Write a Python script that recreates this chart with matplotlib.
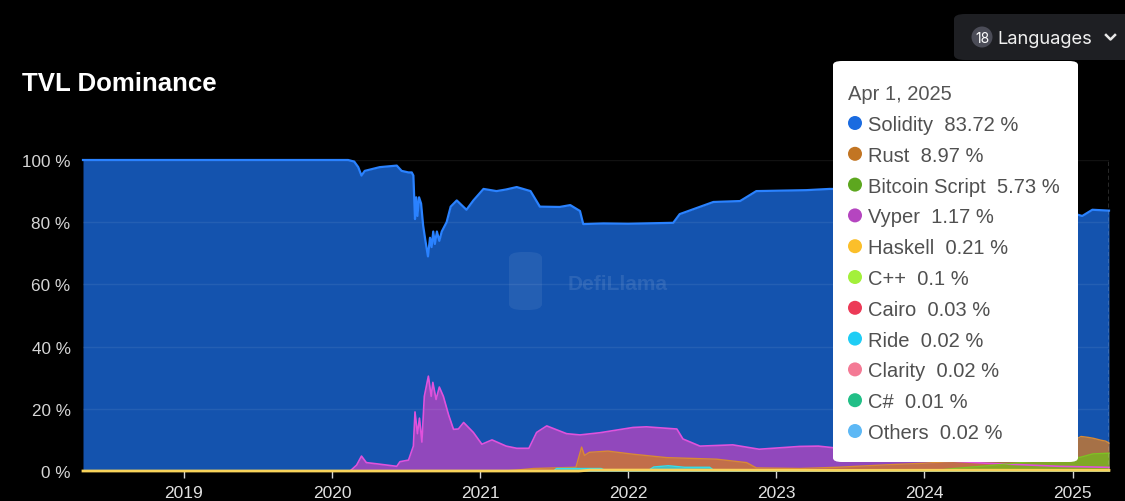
import matplotlib
matplotlib.use("Agg")
import matplotlib.pyplot as plt
import matplotlib.dates as mdates
from matplotlib.patches import FancyBboxPatch, Ellipse
from matplotlib.lines import Line2D
import pandas as pd

plt.rcParams['font.family'] = ['Liberation Sans', 'DejaVu Sans']

# series: (dates, share in %)
sol_dates = ["2018-04-27", "2020-02-10", "2020-02-25", "2020-03-06", "2020-03-14", "2020-03-22",
             "2020-04-28", "2020-06-09", "2020-06-21", "2020-07-08", "2020-07-16", "2020-07-20",
             "2020-07-24", "2020-07-27", "2020-07-30", "2020-08-03", "2020-08-08", "2020-08-13",
             "2020-08-18", "2020-08-25", "2020-08-30", "2020-09-03", "2020-09-07", "2020-09-11",
             "2020-09-16", "2020-09-22", "2020-09-28", "2020-10-10", "2020-10-20", "2020-11-04",
             "2020-11-16", "2020-11-28", "2020-12-15", "2021-01-09", "2021-02-10", "2021-03-05",
             "2021-04-01", "2021-05-05", "2021-05-28", "2021-07-16", "2021-08-11", "2021-09-04",
             "2021-09-12", "2021-11-01", "2022-01-01", "2022-04-22", "2022-05-08", "2022-07-30",
             "2022-10-04", "2022-11-13", "2023-03-16", "2023-05-13", "2023-09-01", "2023-12-01",
             "2024-03-01", "2024-06-01", "2024-09-01", "2024-12-01", "2025-01-25", "2025-02-19",
             "2025-03-20", "2025-04-01"]
sol_vals = [100, 100, 99.5, 97.7, 95, 96.5,
            97.7, 98.2, 96.5, 96, 96, 95,
            81, 88, 82, 88, 86, 79,
            74.6, 69, 75, 72, 77, 73,
            77, 74, 77, 80, 85, 87,
            85.5, 84, 87, 90.7, 90, 90.5,
            91.3, 90, 85, 84.9, 85.5, 83.6,
            79.4, 79.6, 79.5, 79.8, 82.6, 86.5,
            86.8, 90, 90.3, 90.7, 90.5, 90,
            88.5, 87, 86, 84, 82, 84,
            83.8, 83.72]

vy_dates = ["2018-04-27", "2020-02-15", "2020-03-02", "2020-03-14", "2020-03-26", "2020-04-21",
            "2020-06-09", "2020-06-17", "2020-07-08", "2020-07-20", "2020-07-24", "2020-07-30",
            "2020-08-04", "2020-08-10", "2020-08-16", "2020-08-26", "2020-09-02", "2020-09-06",
            "2020-09-14", "2020-09-22", "2020-10-02", "2020-10-15", "2020-10-27", "2020-11-08",
            "2020-11-21", "2020-12-15", "2021-01-05", "2021-01-30", "2021-03-06", "2021-04-01",
            "2021-05-01", "2021-05-20", "2021-06-14", "2021-08-02", "2021-09-04", "2021-10-23",
            "2022-01-13", "2022-02-15", "2022-05-01", "2022-05-16", "2022-06-27", "2022-09-16",
            "2022-11-20", "2023-02-28", "2023-04-15", "2023-08-01", "2023-12-01", "2024-06-01",
            "2024-12-01", "2025-04-01"]
vy_vals = [0, 0, 1.9, 4.8, 2.7, 2.3,
           1.5, 3, 3.5, 8, 19, 12,
           17, 9.3, 24, 30.5, 24, 28.5,
           23, 27, 24, 18, 13.4, 13.5,
           15.6, 12.4, 8.6, 10, 8, 7.3,
           7.3, 12.4, 14.5, 12, 11.6, 12.3,
           14, 14.2, 13.5, 10.3, 8, 8.4,
           7, 7.9, 8, 6.5, 4, 2.5,
           1.5, 1.17]

rust_dates = ["2018-04-27", "2021-03-01", "2021-04-01", "2021-05-12", "2021-08-25", "2021-09-08",
              "2021-09-15", "2021-09-27", "2021-11-12", "2022-01-13", "2022-04-06", "2022-08-07",
              "2022-10-20", "2022-11-13", "2023-02-28", "2023-06-01", "2023-10-01", "2024-01-01",
              "2024-05-01", "2024-10-01", "2024-12-15", "2025-01-22", "2025-02-09", "2025-02-22",
              "2025-03-12", "2025-03-24", "2025-04-01"]
rust_vals = [0, 0, 0.3, 0.8, 1.2, 7.7,
             5, 6, 6.4, 5.4, 4.3, 3.8,
             2.7, 1.0, 0.8, 1.2, 2.0, 2.5,
             3.5, 5.5, 8.5, 11.1, 10.8, 10.5,
             9.9, 9.6, 8.97]

btc_dates = ["2018-04-27", "2024-01-15", "2024-03-15", "2024-06-15", "2024-10-11", "2025-01-20",
             "2025-02-20", "2025-04-01"]
btc_vals = [0, 0, 0.8, 1.8, 3.3, 4.4, 5.5, 5.73]

ride_dates = ["2018-04-27", "2021-07-01", "2021-07-08", "2021-10-26", "2021-11-05", "2022-02-20",
              "2022-03-05", "2022-04-10", "2022-05-20", "2022-07-21", "2022-08-01", "2025-04-01"]
ride_vals = [0, 0, 0.8, 0.8, 0.2, 0.2, 1.3, 1.7, 1.2, 1.2, 0.1, 0.02]

cairo_dates = ["2018-04-27", "2022-03-01", "2022-06-01", "2022-11-01", "2023-06-01", "2024-06-01", "2025-04-01"]
cairo_vals = [0, 0, 0.15, 0.4, 0.4, 0.2, 0.03]

haskell_dates = ["2018-04-27", "2021-09-01", "2021-10-01", "2022-06-01", "2023-06-01", "2024-06-01", "2025-04-01"]
haskell_vals = [0, 0, 0.3, 0.3, 0.2, 0.25, 0.21]

small_dates = ["2018-04-27", "2021-01-01", "2025-04-01"]
cpp_vals = [0, 0.1, 0.1]
clarity_vals = [0, 0.02, 0.02]
csharp_vals = [0, 0.01, 0.01]
others_vals = [0, 0.03, 0.02]

# tooltip on Apr 1, 2025
tip_date = "Apr 1, 2025"
tip_names = ["Solidity", "Rust", "Bitcoin Script", "Vyper", "Haskell", "C++", "Cairo", "Ride",
             "Clarity", "C#", "Others"]
tip_vals = ["83.72", "8.97", "5.73", "1.17", "0.21", "0.1", "0.03", "0.02", "0.02", "0.01", "0.02"]
tip_colors = ["#1a6be0", "#c27523", "#5da71f", "#b545c0", "#fbbf2a", "#a3f03b", "#ec3a57",
              "#1fcdf5", "#f47a95", "#22bf87", "#5db8f5"]

W, H = 1125, 502
fig = plt.figure(figsize=(W / 100, H / 100), dpi=100, facecolor="black")
ax = fig.add_axes([83 / W, 1 - 472 / H, (1109 - 83) / W, (472 - 161) / H])
ax.set_facecolor("black")


def fx(x):
    return x / W


def fy(y):
    return 1 - y / H


def dot(x, y, d, color, z=11):
    fig.patches.append(Ellipse((fx(x), fy(y)), d / W, d / H, transform=fig.transFigure,
                               fc=color, ec="none", zorder=z))


series = [
    (sol_dates, sol_vals, "#1a6be0", "#2a82ff", 1.6),
    (vy_dates, vy_vals, "#b545c0", "#e052dc", 1.2),
    (rust_dates, rust_vals, "#d07a2a", "#d98a33", 1.0),
    (btc_dates, btc_vals, "#74b81e", "#7cc322", 1.0),
    (ride_dates, ride_vals, "#1fd6e8", "#2fe0f0", 1.0),
    (cairo_dates, cairo_vals, "#ec3a57", "#ec3a57", 1.0),
    (small_dates, cpp_vals, "#a3f03b", "#a3f03b", 1.0),
    (small_dates, clarity_vals, "#f47a95", "#f47a95", 1.0),
    (small_dates, csharp_vals, "#22bf87", "#22bf87", 1.0),
    (small_dates, others_vals, "#5db8f5", "#5db8f5", 1.0),
    (haskell_dates, haskell_vals, "#fbd250", "#f8d35a", 2.0),
]

for d, v, fc, lc, lw in series:
    ax.fill_between(pd.to_datetime(d), 0, v, color=fc, alpha=0.78, lw=0, zorder=2)
for d, v, fc, lc, lw in series:
    ax.plot(pd.to_datetime(d), v, color=lc, lw=lw, zorder=3, clip_on=False)

ax.set_ylim(0, 100)
ax.set_xlim(pd.Timestamp("2018-04-27"), pd.Timestamp("2025-04-01"))
ax.set_yticks([0, 20, 40, 60, 80, 100])
ax.set_yticklabels(["0 %", "20 %", "40 %", "60 %", "80 %", "100 %"])
ax.grid(axis="y", color="white", alpha=0.07, lw=1, zorder=4)
ax.set_axisbelow(False)
ax.xaxis.set_major_locator(mdates.YearLocator())
ax.xaxis.set_major_formatter(mdates.DateFormatter("%Y"))
ax.tick_params(axis="y", length=0, pad=9, labelsize=12.3, labelcolor="#d6d6d6")
ax.tick_params(axis="x", length=5, width=1, color="#d6d6d6", pad=5, labelsize=12.5, labelcolor="#e0e0e0")
for s in ax.spines.values():
    s.set_visible(False)

# cursor line at the hovered date
ax.axvline(pd.Timestamp("2025-04-01"), color="#cfcfcf", lw=1, ls=(0, (3, 2)), zorder=5)

# watermark
fig.patches.append(FancyBboxPatch((fx(509), fy(311)), fx(33), 58 / H,
                                  boxstyle="round,pad=0,rounding_size=0.012",
                                  transform=fig.transFigure, fc="white", ec="none", alpha=0.07))
fig.text(fx(568), fy(285), "DefiLlama", color="white", alpha=0.1, fontsize=15,
         fontweight="bold", va="center", ha="left")

# title
fig.text(fx(22), fy(84), "TVL Dominance", color="white", fontsize=18.6, fontweight="bold",
         va="center", ha="left")

# languages button
fig.patches.append(FancyBboxPatch((fx(954), fy(61)), fx(190), 46 / H,
                                  boxstyle="round,pad=0,rounding_size=0.01",
                                  transform=fig.transFigure, fc="#1e1f23", ec="none"))
dot(982, 38, 21, "#4b4c57", z=2)
fig.text(fx(982), fy(39), "18", color="white", fontsize=10, ha="center", va="center",
         family=["Inter", "DejaVu Sans"])
fig.text(fx(997), fy(40), "Languages", color="#f0f0f0", fontsize=13.2, ha="left", va="center",
         family=["Inter", "DejaVu Sans"])
fig.lines.append(Line2D([fx(1106), fx(1110.5), fx(1115)], [fy(36), fy(40.5), fy(36)],
                        transform=fig.transFigure, color="#e8e8e8", lw=1.8))

# tooltip
fig.patches.append(FancyBboxPatch((fx(833), fy(463)), fx(245), 401 / H,
                                  boxstyle="round,pad=0,rounding_size=0.008",
                                  transform=fig.transFigure, fc="white", ec="none", zorder=10))
fig.text(fx(848), fy(94), tip_date, color="#555555", fontsize=14.5, ha="left", va="center", zorder=11)
for i, (name, val, c) in enumerate(zip(tip_names, tip_vals, tip_colors)):
    yy = 124 + i * 30.8
    dot(855, yy, 14, c)
    fig.text(fx(868), fy(yy + 1.5), name + "  " + val + " %", color="#505050", fontsize=14.5,
             ha="left", va="center", zorder=11)

fig.savefig("out.png", dpi=100, facecolor="black")
